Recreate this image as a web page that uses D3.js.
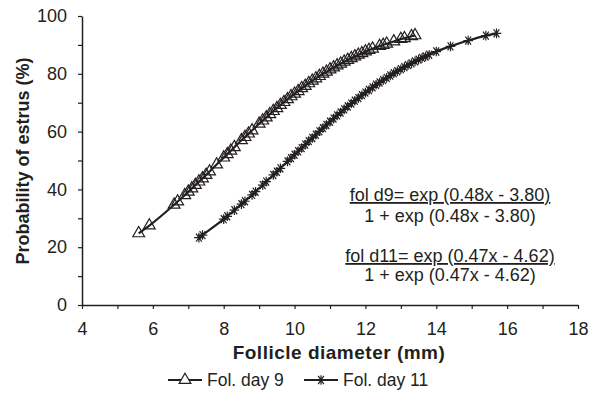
<!DOCTYPE html>
<html>
<head>
  <meta charset="utf-8">
  <script src="https://d3js.org/d3.v7.min.js"></script>
  <style>
    body { margin: 0; background: #fff; }
    text { font-family: "Liberation Sans", Arial, sans-serif; fill: #231f20; }
  </style>
</head>
<body>
  <div id="chart"></div>
  <script>
    // Fol. day 9 : follicle diameter (mm) and probability of estrus (%)
    const day9Diameter = [5.6, 5.9, 6.6, 6.7, 6.9, 7.0, 7.1, 7.2, 7.3, 7.4, 7.5, 7.6, 7.8, 8.0, 8.1, 8.2, 8.3, 8.5, 8.6, 8.7, 8.8,
      9.0, 9.1, 9.2, 9.3, 9.4, 9.5, 9.6, 9.7, 9.8, 9.9, 10.0, 10.1, 10.2, 10.3, 10.4, 10.5, 10.6, 10.7, 10.8, 10.9,
      11.0, 11.1, 11.2, 11.3, 11.4, 11.5, 11.6, 11.7, 11.8, 11.9, 12.0, 12.1, 12.2, 12.4, 12.5, 12.6, 12.8, 13.0, 13.1, 13.3, 13.4];
    const day9Prob = [24.8, 27.5, 34.7, 35.8, 38.0, 39.2, 40.3, 41.5, 42.7, 43.8, 45.0, 46.2, 48.6, 51.0, 52.2, 53.4, 54.6, 57.0, 58.1, 59.3, 60.4,
      62.7, 63.8, 64.9, 66.0, 67.1, 68.1, 69.2, 70.2, 71.2, 72.2, 73.1, 74.0, 75.0, 75.8, 76.7, 77.6, 78.4, 79.2, 80.0, 80.7,
      81.5, 82.2, 82.9, 83.5, 84.2, 84.8, 85.4, 86.0, 86.6, 87.1, 87.7, 88.2, 88.7, 89.6, 90.0, 90.4, 91.2, 92.0, 92.3, 93.0, 93.3];

    // Fol. day 11
    const day11Diameter = [7.3, 7.4, 8.0, 8.1, 8.3, 8.5, 8.6, 8.8, 8.9, 9.1, 9.2, 9.4, 9.5, 9.6, 9.8, 9.9, 10.0, 10.1, 10.2, 10.3,
      10.4, 10.5, 10.6, 10.7, 10.8, 10.9, 11.0, 11.1, 11.2, 11.3, 11.4, 11.5, 11.6, 11.7, 11.8, 11.9, 12.0, 12.1, 12.2, 12.3,
      12.4, 12.5, 12.6, 12.7, 12.8, 12.9, 13.0, 13.1, 13.2, 13.3, 13.4, 13.5, 13.6, 13.7, 13.8, 14.0, 14.4, 14.9, 15.4, 15.7];
    const day11Prob = [23.3, 24.2, 29.7, 30.7, 32.8, 34.9, 35.9, 38.1, 39.2, 41.5, 42.7, 45.0, 46.1, 47.3, 49.7, 50.8, 52.0, 53.2, 54.3, 55.5,
      56.7, 57.8, 58.9, 60.1, 61.2, 62.3, 63.4, 64.5, 65.6, 66.6, 67.7, 68.7, 69.7, 70.7, 71.6, 72.6, 73.5, 74.4, 75.3, 76.2,
      77.0, 77.8, 78.6, 79.4, 80.2, 80.9, 81.6, 82.3, 83.0, 83.6, 84.3, 84.9, 85.5, 86.0, 86.6, 87.7, 89.5, 91.5, 93.2, 94.0];

    const xTicks = [4, 5, 6, 7, 8, 9, 10, 11, 12, 13, 14, 15, 16, 17, 18];
    const yTicks = [0, 10, 20, 30, 40, 50, 60, 70, 80, 90, 100];
    const seriesNames = ["Fol. day 9", "Fol. day 11"];
    const equations = [
      ["fol d9= exp (0.48x - 3.80)", "1 + exp (0.48x - 3.80)"],
      ["fol d11= exp (0.47x - 4.62)", "1 + exp (0.47x - 4.62)"]
    ];

    const width = 601, height = 412;
    const ink = "#231f20";

    const svg = d3.select("#chart").append("svg")
      .attr("width", width)
      .attr("height", height);

    const x = d3.scaleLinear().domain([4, 18]).range([82, 578]);
    const y = d3.scaleLinear().domain([0, 100]).range([305, 16]);

    // axes
    const xAxis = svg.append("g")
      .attr("transform", `translate(0,${y(0)})`)
      .call(d3.axisBottom(x).tickValues(xTicks).tickSize(4).tickSizeOuter(0).tickPadding(13)
        .tickFormat(d => d % 2 === 0 ? d : ""));
    const yAxis = svg.append("g")
      .attr("transform", `translate(${x(4)},0)`)
      .call(d3.axisLeft(y).tickValues(yTicks).tickSize(4).tickSizeOuter(0).tickPadding(11)
        .tickFormat(d => d % 20 === 0 ? d : ""));
    [xAxis, yAxis].forEach(g => {
      g.select(".domain").attr("stroke", ink).attr("stroke-width", 1.5);
      g.selectAll(".tick line").attr("stroke", ink).attr("stroke-width", 1.2);
      g.selectAll(".tick text").attr("font-size", "18px").attr("fill", ink)
        .attr("font-family", "'Liberation Sans', Arial, sans-serif");
    });

    // axis titles
    svg.append("text")
      .attr("x", 339).attr("y", 359)
      .attr("text-anchor", "middle")
      .attr("font-weight", "bold").attr("font-size", "19px")
      .attr("letter-spacing", "0.5px")
      .text("Follicle diameter (mm)");
    svg.append("text")
      .attr("transform", "translate(29,161) rotate(-90)")
      .attr("text-anchor", "middle")
      .attr("font-weight", "bold").attr("font-size", "18px")
      .text("Probability of estrus (%)");

    // markers
    const triangle = d3.symbol(d3.symbolTriangle, 60);
    function drawStar(sel) {
      const r = 4.8;
      sel.append("path")
        .attr("d", `M${-r},0L${r},0M${-r * 0.6},${-r * 0.85}L${r * 0.6},${r * 0.85}M${-r * 0.6},${r * 0.85}L${r * 0.6},${-r * 0.85}M0,${-r}L0,${r}`)
        .attr("stroke", ink).attr("stroke-width", 1.2).attr("fill", "none");
    }

    const line = d3.line()
      .x(d => x(d[0]))
      .y(d => y(d[1]))
      .curve(d3.curveMonotoneX);

    const day9 = d3.zip(day9Diameter, day9Prob);
    const day11 = d3.zip(day11Diameter, day11Prob);

    svg.append("path").datum(day9)
      .attr("d", line).attr("fill", "none")
      .attr("stroke", ink).attr("stroke-width", 2.2);
    svg.append("path").datum(day11)
      .attr("d", line).attr("fill", "none")
      .attr("stroke", ink).attr("stroke-width", 2.2);

    svg.append("g").selectAll("path")
      .data(day9).join("path")
      .attr("transform", d => `translate(${x(d[0])},${y(d[1])})`)
      .attr("d", triangle)
      .attr("fill", "none").attr("stroke", ink).attr("stroke-width", 1.2);

    svg.append("g").selectAll("g")
      .data(day11).join("g")
      .attr("transform", d => `translate(${x(d[0])},${y(d[1])})`)
      .each(function() { drawStar(d3.select(this)); });

    // equations
    const eqBase = [[201, 222], [262, 281]];
    equations.forEach((eq, i) => {
      svg.append("text")
        .attr("x", 450).attr("y", eqBase[i][0])
        .attr("text-anchor", "middle").attr("font-size", "18px")
        .style("text-decoration", "underline")
        .text(eq[0]);
      svg.append("text")
        .attr("x", 450).attr("y", eqBase[i][1])
        .attr("text-anchor", "middle").attr("font-size", "18px")
        .text(eq[1]);
    });

    // legend
    const legendItems = [
      { name: seriesNames[0], x1: 168, x2: 202, tx: 207 },
      { name: seriesNames[1], x1: 304, x2: 338, tx: 343 }
    ];
    const legendY = 380;
    legendItems.forEach((item, i) => {
      const g = svg.append("g");
      g.append("line")
        .attr("x1", item.x1).attr("x2", item.x2)
        .attr("y1", legendY).attr("y2", legendY)
        .attr("stroke", ink).attr("stroke-width", 2);
      const m = g.append("g").attr("transform", `translate(${(item.x1 + item.x2) / 2},${legendY})`);
      if (i === 0) {
        m.append("path").attr("d", triangle).attr("fill", "#fff").attr("stroke", ink).attr("stroke-width", 1.2);
      } else {
        drawStar(m);
      }
      g.append("text")
        .attr("x", item.tx).attr("y", legendY + 6)
        .attr("font-size", "17.5px")
        .text(item.name);
    });
  </script>
</body>
</html>
